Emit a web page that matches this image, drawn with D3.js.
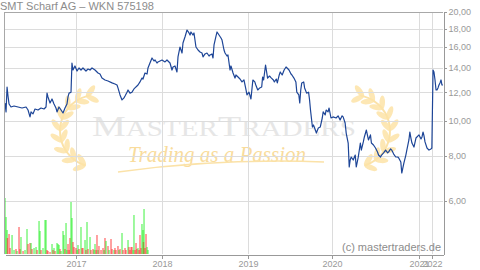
<!DOCTYPE html>
<html>
  <head>
    <meta charset="utf-8">
    <title>SMT Scharf AG - WKN 575198</title>
    <style>
      body { margin: 0; background: #fff; }
      svg { display: block; font-family: "Liberation Sans", Arial, sans-serif; }
      .axis path, .axis line { fill: none; stroke: #999; shape-rendering: crispEdges; }
      .axis text { fill: #999; font-size: 9px; font-family: "Liberation Sans", Arial, sans-serif; }
      .grid line { stroke: #dcdcdc; shape-rendering: crispEdges; }
      .border { stroke: #a8a8a8; shape-rendering: crispEdges; }
    </style>
  </head>
  <body>
    <div class="chart"></div>

    <script src="https://d3js.org/d3.v7.min.js"></script>
    <script>
      // tick labels
      var years = [2017, 2018, 2019, 2020, 2021, 2022];
      var priceTicks = [6, 8, 10, 12, 14, 16, 18, 20];

      // closing prices (decimal year, EUR)
      var dates = [
        2016.174, 2016.186, 2016.198, 2016.209, 2016.221, 2016.244, 2016.279, 2016.326, 2016.372, 2016.419,
        2016.442, 2016.465, 2016.477, 2016.500, 2016.523, 2016.558, 2016.593, 2016.628, 2016.651, 2016.663,
        2016.674, 2016.698, 2016.721, 2016.744, 2016.767, 2016.779, 2016.802, 2016.826, 2016.849, 2016.872,
        2016.895, 2016.907, 2016.919, 2016.942, 2016.953,
        2016.965, 2016.988, 2017.012, 2017.035, 2017.058, 2017.081, 2017.116, 2017.140, 2017.163, 2017.186,
        2017.221, 2017.256, 2017.279, 2017.302, 2017.337, 2017.372, 2017.419, 2017.453, 2017.477, 2017.488,
        2017.512, 2017.535, 2017.558, 2017.570, 2017.593, 2017.605, 2017.628, 2017.651, 2017.674, 2017.686,
        2017.709, 2017.721, 2017.744, 2017.767, 2017.779, 2017.802, 2017.826, 2017.837, 2017.860, 2017.884,
        2017.907, 2017.919, 2017.942, 2017.953, 2017.977, 2018.000,
        2018.035, 2018.058, 2018.093, 2018.116, 2018.128, 2018.151, 2018.174, 2018.186, 2018.209, 2018.233,
        2018.244, 2018.267, 2018.291, 2018.314, 2018.326, 2018.337, 2018.360, 2018.372, 2018.395, 2018.419,
        2018.442, 2018.465, 2018.477, 2018.500, 2018.523, 2018.547, 2018.558, 2018.581, 2018.593, 2018.605,
        2018.628, 2018.640, 2018.663, 2018.686, 2018.698, 2018.721, 2018.733, 2018.756, 2018.767, 2018.791,
        2018.802, 2018.826, 2018.849, 2018.860, 2018.884, 2018.907, 2018.930, 2018.953, 2018.977, 2018.988,
        2019.012, 2019.035,
        2019.058, 2019.081, 2019.093, 2019.116, 2019.140, 2019.163, 2019.174, 2019.186, 2019.209, 2019.233,
        2019.256, 2019.279, 2019.302, 2019.314, 2019.337, 2019.349, 2019.372, 2019.384, 2019.407, 2019.430,
        2019.453, 2019.477, 2019.488, 2019.512, 2019.523, 2019.547, 2019.570, 2019.581, 2019.605, 2019.616,
        2019.628, 2019.640, 2019.663, 2019.674, 2019.698, 2019.721, 2019.733, 2019.744, 2019.767, 2019.779,
        2019.802, 2019.814, 2019.837, 2019.860, 2019.884, 2019.895, 2019.919, 2019.930, 2019.953, 2019.965,
        2019.988, 2020.012, 2020.047, 2020.070, 2020.093, 2020.116, 2020.128,
        2020.151, 2020.163, 2020.186, 2020.198, 2020.209, 2020.221, 2020.244, 2020.267, 2020.279, 2020.302,
        2020.326, 2020.337, 2020.360, 2020.372, 2020.395, 2020.419, 2020.442, 2020.453, 2020.477, 2020.500,
        2020.523, 2020.535, 2020.558, 2020.570, 2020.593, 2020.616, 2020.640, 2020.651, 2020.674, 2020.686,
        2020.709, 2020.733, 2020.756, 2020.767, 2020.791, 2020.802, 2020.826, 2020.849, 2020.860, 2020.884,
        2020.895, 2020.907, 2020.919, 2020.942, 2020.965, 2021.000, 2021.154, 2021.231, 2021.308, 2021.385,
        2021.462, 2021.615, 2021.769, 2021.923, 2021.990,
        2022.012, 2022.023, 2022.035, 2022.047, 2022.058, 2022.070, 2022.081, 2022.093, 2022.105, 2022.116,
        2022.128
      ];
      var prices = [
        11.20, 10.58, 12.40, 11.71, 11.13, 10.92, 10.99, 10.92, 10.85, 10.92,
        10.71, 10.25, 10.58, 10.45, 10.78, 10.71, 10.85, 10.78, 10.92, 11.93,
        11.64, 11.20, 11.49, 11.13, 10.85, 10.58, 10.92, 10.71, 10.51, 10.85,
        11.13, 11.64, 11.93, 12.00, 14.45,
        13.82, 14.18, 13.73, 14.00, 13.82, 14.00, 13.73, 13.91, 13.82, 14.00,
        13.82, 13.56, 13.47, 13.13, 12.97, 12.89, 12.73, 12.64, 12.56, 12.33,
        11.79, 11.42, 11.57, 11.71, 12.00, 12.17, 11.93, 12.00, 12.25, 12.33,
        12.48, 12.56, 12.81, 13.13, 13.05, 13.56, 13.47, 14.00, 14.45, 14.92,
        14.64, 14.73, 14.45, 14.55, 14.64, 14.73,
        14.55, 14.73, 14.45, 13.82, 14.09, 14.18, 13.65, 15.02, 16.00, 15.40,
        16.42, 17.06, 17.83, 17.50, 17.27, 17.61, 17.27, 17.50, 16.00, 15.70,
        15.50, 15.40, 15.02, 15.31, 15.40, 15.11, 15.21, 15.31, 14.92, 16.21,
        17.16, 17.61, 17.27, 16.95, 16.73, 15.70, 15.40, 15.11, 15.21, 13.82,
        14.18, 13.56, 13.13, 13.39, 13.22, 13.05, 12.81, 12.97, 12.17, 11.79,
        12.00, 11.49,
        12.97, 12.81, 12.56, 12.17, 12.33, 12.40, 13.22, 12.97, 14.27, 13.13,
        13.30, 13.13, 12.97, 12.81, 13.05, 12.73, 13.39, 13.65, 13.39, 13.82,
        14.09, 13.91, 13.82, 13.47, 13.39, 13.13, 12.81, 12.00, 11.79, 11.20,
        12.17, 12.73, 12.81, 12.33, 11.93, 12.00, 11.42, 10.71, 9.61, 9.74,
        9.43, 9.25, 9.55, 9.61, 10.18, 10.58, 10.38, 10.71, 10.58, 10.85,
        10.18, 10.25, 10.18, 10.32, 10.05, 10.32, 10.25,
        9.86, 9.25, 8.68, 7.45, 7.79, 7.94, 7.79, 8.04, 7.45, 7.94,
        8.68, 8.30, 8.74, 9.02, 9.43, 8.85, 9.14, 8.68, 8.57, 8.41,
        8.20, 8.04, 7.94, 8.04, 8.15, 8.30, 8.15, 8.20, 8.36, 8.30,
        8.09, 7.94, 7.94, 7.89, 7.69, 7.17, 7.64, 8.04, 8.30, 8.85,
        9.31, 8.96, 8.68, 8.46, 8.96, 9.14, 8.91, 9.02, 9.31, 9.08,
        8.74, 8.41, 8.30, 8.36, 8.41,
        13.82, 13.65, 12.97, 12.17, 12.17, 12.33, 12.56, 12.73, 12.97, 12.56,
        12.56
      ];

      // daily volume (decimal year, shares, u = up day / d = down day)
      var volDates = [
        2016.174, 2016.186, 2016.198, 2016.203, 2016.221, 2016.233, 2016.256, 2016.279, 2016.302, 2016.314,
        2016.337, 2016.349, 2016.360, 2016.384, 2016.407, 2016.430, 2016.442, 2016.465, 2016.477, 2016.488,
        2016.512, 2016.535, 2016.547, 2016.570, 2016.581, 2016.593, 2016.616, 2016.640, 2016.651, 2016.663,
        2016.674, 2016.698, 2016.721, 2016.733, 2016.744, 2016.756, 2016.779, 2016.791, 2016.802, 2016.814,
        2016.826, 2016.849, 2016.860, 2016.872, 2016.884, 2016.895, 2016.907, 2016.919, 2016.930, 2016.942,
        2016.953, 2016.965, 2016.977, 2017.000, 2017.012, 2017.023, 2017.035, 2017.058, 2017.070, 2017.081,
        2017.105, 2017.116, 2017.128, 2017.140, 2017.163, 2017.174, 2017.198, 2017.209, 2017.221, 2017.233,
        2017.244, 2017.256, 2017.267, 2017.291, 2017.314, 2017.326, 2017.337, 2017.349, 2017.372, 2017.384,
        2017.407, 2017.419, 2017.442, 2017.453, 2017.465, 2017.488, 2017.500, 2017.512, 2017.535, 2017.547,
        2017.570, 2017.581, 2017.605, 2017.616, 2017.628, 2017.640, 2017.651, 2017.663, 2017.674, 2017.686,
        2017.698, 2017.709, 2017.721, 2017.733, 2017.744, 2017.756, 2017.767, 2017.779, 2017.785, 2017.791,
        2017.802, 2017.814, 2017.826, 2017.837
      ];
      var volumes = [
        56000, 37000, 24000, 16000, 20000, 6000, 19000, 4000, 5000, 3000,
        27000, 5000, 17000, 3000, 4000, 25000, 10000, 11000, 11000, 5000,
        6000, 7000, 4000, 33000, 23000, 4000, 6000, 34000, 34000, 4000,
        3000, 2000, 10000, 4000, 6000, 3000, 11000, 10000, 9000, 5000,
        3000, 23000, 19000, 5000, 31000, 4000, 10000, 4000, 16000, 52000,
        36000, 12000, 7000, 6000, 4000, 9000, 5000, 27000, 6000, 6000,
        14000, 4000, 32000, 5000, 17000, 4000, 5000, 4000, 10000, 4000,
        19000, 4000, 8000, 4000, 6000, 4000, 16000, 13000, 8000, 4000,
        15000, 5000, 4000, 6000, 4000, 8000, 4000, 5000, 21000, 4000,
        6000, 4000, 14000, 7000, 4000, 7000, 7000, 4000, 39000, 4000,
        11000, 5000, 6000, 4000, 19000, 6000, 30000, 24000, 12000, 45000,
        6000, 20000, 7000, 4000
      ];
      var volDir = [
        "u", "u", "u", "d", "d", "d", "u", "u", "d", "u",
        "d", "d", "u", "d", "u", "u", "d", "d", "u", "d",
        "u", "u", "d", "u", "u", "d", "u", "u", "u", "d",
        "d", "d", "u", "d", "u", "d", "u", "u", "u", "d",
        "u", "u", "u", "d", "u", "u", "d", "d", "d", "u",
        "u", "d", "d", "d", "u", "u", "d", "u", "d", "d",
        "u", "d", "u", "d", "u", "d", "d", "u", "u", "d",
        "d", "u", "d", "d", "d", "u", "d", "u", "d", "u",
        "d", "d", "u", "d", "d", "d", "u", "d", "u", "d",
        "d", "d", "u", "d", "d", "d", "d", "u", "u", "d",
        "d", "d", "u", "d", "d", "d", "u", "u", "d", "u",
        "d", "d", "u", "u"
      ];

      var W = 480, H = 270;
      var plot = {left: 4, top: 12, right: 443, bottom: 254};

      var svg = d3.select(".chart").append("svg")
        .attr("width", W)
        .attr("height", H);

      // x axis is compressed after 2021 like in the original
      var x = d3.scaleLinear()
        .domain([2016.174, 2017, 2018, 2019, 2020, 2021, 2022, 2022.128])
        .range([5, 76, 162, 248, 332, 419, 432, 443]);

      var y = d3.scaleLog()
        .domain([4.28, 20])
        .range([plot.bottom, plot.top]);

      var yv = d3.scaleLinear()
        .domain([0, 56000])
        .range([plot.bottom, 198]);

      // title
      svg.append("text")
        .attr("x", 0)
        .attr("y", 10)
        .attr("fill", "#8c8c8c")
        .style("font-size", "11px")
        .text("SMT Scharf AG \u2013 WKN 575198");

      // watermark: laurel wreaths, brand name and slogan
      var wm = svg.append("g").attr("class", "watermark");

      function drawWreath(cx, flip) {
        var g = wm.append("g")
          .attr("transform", "translate(" + cx + ",131) scale(" + flip + ",1)");
        var r = 36, a0 = Math.PI * 0.6, a1 = Math.PI * 1.42;
        var stem = d3.path();
        stem.arc(0, 0, r, a0, a1);
        g.append("path")
          .attr("d", stem.toString())
          .attr("fill", "none")
          .attr("stroke", "#fbe2a8")
          .attr("stroke-width", 2);
        var n = 8;
        for (var i = 0; i <= n; i++) {
          var a = a0 + (a1 - a0) * i / n;
          var px = r * Math.cos(a), py = r * Math.sin(a);
          [50, 130].forEach(function(off) {
            var ang = a * 180 / Math.PI + off;
            var rad = ang * Math.PI / 180;
            g.append("ellipse")
              .attr("cx", px + 6 * Math.cos(rad))
              .attr("cy", py + 6 * Math.sin(rad))
              .attr("rx", 7)
              .attr("ry", 2.8)
              .attr("transform", "rotate(" + ang + "," + (px + 6 * Math.cos(rad)) + "," + (py + 6 * Math.sin(rad)) + ")")
              .attr("fill", "#fde3a7")
              .attr("opacity", 0.85);
          });
        }
      }
      drawWreath(96, 1);
      drawWreath(354, -1);

      var brand = wm.append("text")
        .attr("x", 92)
        .attr("y", 136)
        .attr("fill", "#e6e6e6")
        .attr("textLength", 264)
        .attr("lengthAdjust", "spacingAndGlyphs")
        .style("font-family", "'Liberation Serif', 'DejaVu Serif', serif");
      brand.append("tspan").style("font-size", "30px").text("M");
      brand.append("tspan").style("font-size", "23px").text("ASTER");
      brand.append("tspan").style("font-size", "30px").text("T");
      brand.append("tspan").style("font-size", "23px").text("RADERS");

      wm.append("text")
        .attr("x", 128)
        .attr("y", 162)
        .attr("fill", "#f9dc9c")
        .attr("textLength", 178)
        .attr("lengthAdjust", "spacingAndGlyphs")
        .style("font-family", "'Liberation Serif', serif")
        .style("font-style", "italic")
        .style("font-size", "23px")
        .text("Trading as a Passion");

      wm.append("path")
        .attr("d", "M118,172 Q220,158 324,162")
        .attr("fill", "none")
        .attr("stroke", "#fbe2a8")
        .attr("stroke-width", 1.5);

      // grid lines
      var grid = svg.append("g").attr("class", "grid");
      grid.selectAll(".hline")
        .data(priceTicks.filter(function(d) { return d < 20; }))
        .enter().append("line")
        .attr("x1", plot.left)
        .attr("x2", plot.right)
        .attr("y1", function(d) { return Math.round(y(d)) + 0.5; })
        .attr("y2", function(d) { return Math.round(y(d)) + 0.5; });
      grid.selectAll(".vline")
        .data(years)
        .enter().append("line")
        .attr("x1", function(d) { return Math.round(x(d)) + 0.5; })
        .attr("x2", function(d) { return Math.round(x(d)) + 0.5; })
        .attr("y1", plot.top)
        .attr("y2", plot.bottom);

      // volume bars
      var vol = volDates.map(function(d, i) { return {t: d, v: volumes[i], dir: volDir[i]}; });
      svg.append("g").selectAll("rect")
        .data(vol)
        .enter().append("rect")
        .attr("x", function(d) { return x(d.t) - 0.7; })
        .attr("y", function(d) { return yv(d.v); })
        .attr("width", 1.4)
        .attr("height", function(d) { return plot.bottom - yv(d.v); })
        .attr("fill", function(d) { return d.dir === "u" ? "#1aee1a" : "#ff2020"; })
        .attr("opacity", 0.6);

      // price line
      var series = dates.map(function(d, i) { return {t: d, v: prices[i]}; });
      var line = d3.line()
        .x(function(d) { return x(d.t); })
        .y(function(d) { return y(d.v); });

      svg.append("path")
        .datum(series)
        .attr("fill", "none")
        .attr("stroke", "#1d4597")
        .attr("stroke-width", 1.2)
        .attr("stroke-linejoin", "round")
        .attr("d", line);

      // frame
      svg.append("line").attr("class", "border")
        .attr("x1", plot.left + 0.5).attr("x2", plot.left + 0.5)
        .attr("y1", plot.top).attr("y2", plot.bottom);
      svg.append("line").attr("class", "border")
        .attr("x1", plot.left).attr("x2", plot.right)
        .attr("y1", plot.top + 0.5).attr("y2", plot.top + 0.5);

      // axes
      var fmt = function(d) { return d3.format(".2f")(d).replace(".", ","); };
      svg.append("g")
        .attr("class", "y axis")
        .attr("transform", "translate(" + (plot.right + 0.5) + ",0)")
        .call(d3.axisRight(y).tickValues(priceTicks).tickFormat(fmt).tickSize(3).tickSizeOuter(0).tickPadding(2));

      svg.append("g")
        .attr("class", "x axis")
        .attr("transform", "translate(0," + (plot.bottom + 0.5) + ")")
        .call(d3.axisBottom(x).tickValues(years).tickFormat(d3.format("d")).tickSize(4).tickSizeOuter(0).tickPadding(2));

      // copyright
      svg.append("text")
        .attr("x", plot.right - 2)
        .attr("y", 251)
        .attr("text-anchor", "end")
        .attr("fill", "#8c8c8c")
        .style("font-size", "11px")
        .text("(c) mastertraders.de");
    </script>
  </body>
</html>
